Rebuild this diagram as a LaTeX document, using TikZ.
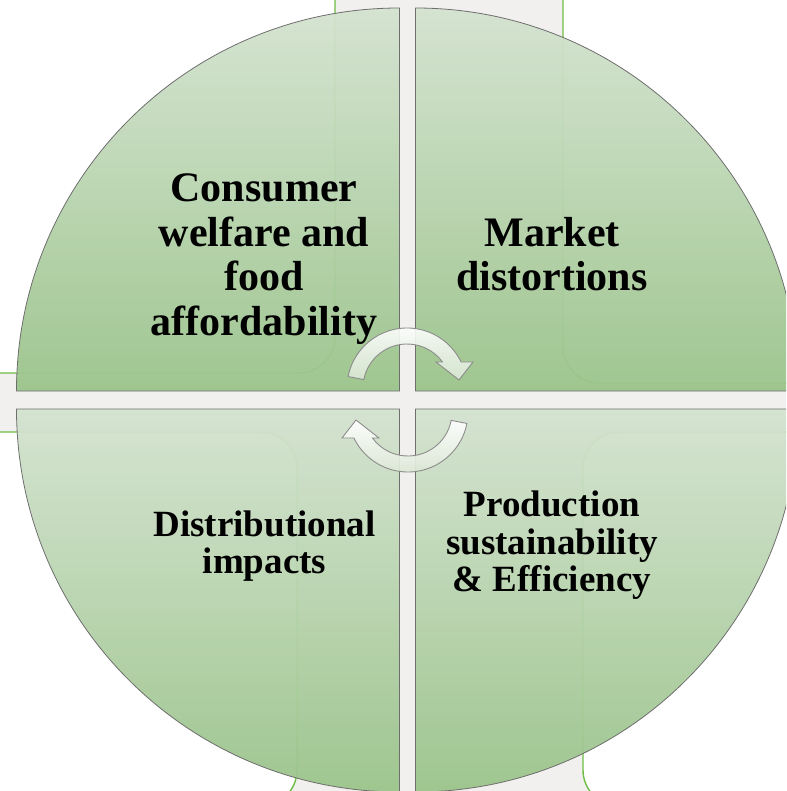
\documentclass[tikz,border=0pt]{standalone}
\usepackage{fontspec}
\setmainfont{Liberation Serif}
\definecolor{bggray}{HTML}{F1F0EE}
\definecolor{rimgreen}{HTML}{6DBE45}
\definecolor{qtop}{HTML}{D4E3D0}
\definecolor{qbot}{HTML}{9BC48B}
\definecolor{qline}{HTML}{6E6E6E}
\definecolor{arrbot}{HTML}{D8E6D2}
\definecolor{arrline}{HTML}{8C8C8C}
\tikzset{
  panel/.style={fill=white, draw=rimgreen, line width=1.4pt, rounded corners=36pt},
  quad/.style={top color=qtop, bottom color=qbot, fill opacity=0.95, draw=qline, line width=0.8pt},
  cyc/.style={top color=white, bottom color=arrbot, fill opacity=0.92, draw=arrline, line width=0.9pt},
  bigtxt/.style={font=\fontsize{42}{44.5}\selectfont\bfseries, align=center, inner sep=0pt},
  smalltxt/.style={font=\fontsize{37}{37.5}\selectfont\bfseries, align=center, inner sep=0pt},
}
\begin{document}
\begin{tikzpicture}[x=1pt,y=-1pt]
  \useasboundingbox (0,0) rectangle (786,791);
  \clip (0,0) rectangle (786,791);
  \fill[bggray] (0,0) rectangle (786,791);
  % background panels
  \draw[panel] (-60,-60) rectangle (335,373);
  \draw[panel] (563,-60) rectangle (850,383);
  \draw[panel] (-60,432) rectangle (297,806);
  \draw[panel] (583,432) rectangle (850,806);
  % quadrants
  \shadedraw[quad] (399.5,391) -- (16.5,391) arc[start angle=180, end angle=270, radius=383] -- cycle;
  \shadedraw[quad] (415.5,391) -- (415.5,8) arc[start angle=270, end angle=360, radius=383] -- cycle;
  \shadedraw[quad] (399.5,409) -- (399.5,792) arc[start angle=90, end angle=180, radius=383] -- cycle;
  \shadedraw[quad] (415.5,409) -- (798.5,409) arc[start angle=0, end angle=90, radius=383] -- cycle;
  % texts
  \node[bigtxt] (tl) at (264,259.5) {\strut Consumer\\welfare and\\food\\affordability\strut};
  \node[bigtxt] (tr) at (552,259.8) {\strut Market\\distortions\strut};
  \node[smalltxt] (bl) at (264.5,547.6) {\strut Distributional\\impacts\strut};
  \node[smalltxt] (br) at (552,546.7) {\strut Production\\sustainability\\\& Efficiency\strut};
  % circular arrows
  \begin{scope}[shift={(407,388)}]
    \shadedraw[cyc] (191:60) arc[start angle=191, end angle=334.3, radius=60]
      -- (66,-26) -- (52,-8) -- (29,-26) -- (323.8:44)
      arc[start angle=323.8, end angle=191, radius=44] -- cycle;
  \end{scope}
  \begin{scope}[shift={(408,412)}, rotate=180]
    \shadedraw[cyc] (191:60) arc[start angle=191, end angle=334.3, radius=60]
      -- (66,-26) -- (52,-8) -- (29,-26) -- (323.8:44)
      arc[start angle=323.8, end angle=191, radius=44] -- cycle;
  \end{scope}
\end{tikzpicture}
\end{document}
